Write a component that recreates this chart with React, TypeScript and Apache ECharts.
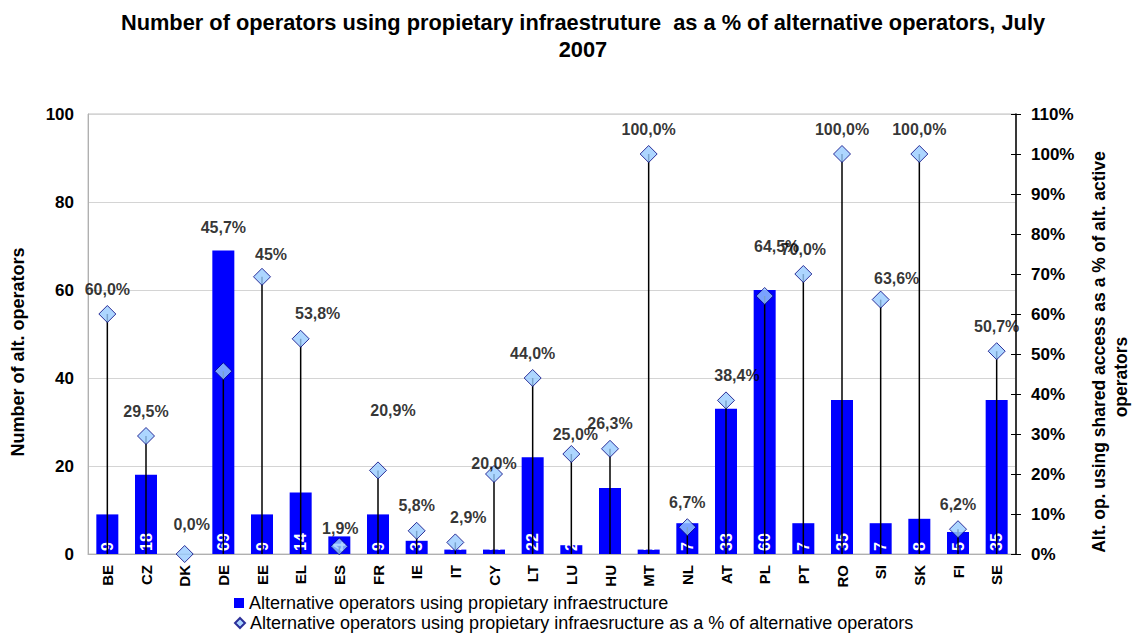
import React, { useEffect, useRef } from "react";
import * as echarts from "echarts";

const categories = ["BE","CZ","DK","DE","EE","EL","ES","FR","IE","IT","CY","LT","LU","HU","MT","NL","AT","PL","PT","RO","SI","SK","FI","SE"];
const operators = [9,18,0,69,9,14,4,9,3,1,1,22,2,15,1,7,33,60,7,35,7,8,5,35];
const barLabels = ["9","18","","69","9","14","4","9","3","1","1","22","2","","1","7","33","60","7","35","7","8","5","35"];
const percentPos = [60,29.5,0,45.7,69.3,53.8,1.9,20.9,5.8,2.9,20.0,44.0,25.0,26.3,100,6.7,38.4,64.5,70.0,100,63.6,100,6.2,50.7];
const percentLabels = ["60,0%","29,5%","0,0%","45,7%","45%","53,8%","1,9%","20,9%","5,8%","2,9%","20,0%","44,0%","25,0%","26,3%","100,0%","6,7%","38,4%","64,5%","70,0%","100,0%","63,6%","100,0%","6,2%","50,7%"];
const leftTicks = { min: 0, max: 100, interval: 20 };
const rightTicks = { min: 0, max: 110, interval: 10 };

const SERIES_BAR = "Alternative operators using propietary infraestructure";
const SERIES_PCT = "Alternative operators using propietary infraesructure as a % of alternative operators";
const LEFT_NAME = "Number of alt. operators";
const RIGHT_NAME_1 = "Alt. op. using shared access as a % of alt. active";
const RIGHT_NAME_2 = "operators";

// label nudges (layout only)
const labelNudge: Record<string, [number, number]> = {
  DK: [7, -5], DE: [0, -119], EE: [9, 3], EL: [17, 0], ES: [1, 7], FR: [15, -35],
  IT: [13, 0], CY: [0, 14], LU: [4, 5], AT: [11, 0], PL: [12, -25], SI: [16, 4],
};

const FONT = "'Liberation Sans', Arial, sans-serif";

export default function App() {
  const ref = useRef<HTMLDivElement>(null);
  useEffect(() => {
    document.body.style.margin = "0";
    const chart = echarts.init(ref.current!, null, { renderer: "svg" });
    const legendText = { fontFamily: FONT, fontSize: 18, color: "#000" };
    const nameStyle = { fontFamily: FONT, fontWeight: "bold", fill: "#000", align: "center", verticalAlign: "middle" };
    chart.setOption({
      animation: false,
      backgroundColor: "#ffffff",
      textStyle: { fontFamily: FONT },
      title: {
        text: "Number of operators using propietary infraestruture  as a % of alternative operators, July\n2007",
        left: 578,
        textAlign: "center",
        top: 4,
        textStyle: { fontFamily: FONT, fontWeight: "bold", fontSize: 21.8, lineHeight: 27, color: "#000" },
      },
      graphic: [
        { type: "text", x: 18, y: 352, rotation: Math.PI / 2, style: { text: LEFT_NAME, fontSize: 18, ...nameStyle } },
        { type: "text", x: 1099, y: 352, rotation: Math.PI / 2, style: { text: RIGHT_NAME_1, fontSize: 17.5, ...nameStyle } },
        { type: "text", x: 1121, y: 377, rotation: Math.PI / 2, style: { text: RIGHT_NAME_2, fontSize: 17.5, ...nameStyle } },
      ],
      legend: [
        {
          left: 234,
          top: 594,
          itemWidth: 10,
          itemHeight: 10,
          padding: 0,
          textStyle: legendText,
          data: [{ name: SERIES_BAR, icon: "rect" }],
        },
        {
          left: 234,
          top: 614,
          itemWidth: 10,
          itemHeight: 10,
          padding: 0,
          textStyle: legendText,
          data: [{ name: SERIES_PCT, icon: "diamond" }],
        },
      ],
      grid: { left: 88, right: 119, top: 114, bottom: 85, show: true, borderColor: "#c0c0c0", borderWidth: 1, outerBoundsMode: "none", containLabel: false },
      xAxis: {
        type: "category",
        data: categories,
        axisLine: { lineStyle: { color: "#b0b0b0" } },
        axisTick: { show: false },
        axisLabel: { rotate: 90, fontFamily: FONT, fontWeight: "bold", fontSize: 15, color: "#000", margin: 11, interval: 0 },
      },
      yAxis: [
        {
          type: "value",
          ...leftTicks,
          axisLine: { show: true, lineStyle: { color: "#b0b0b0" } },
          axisTick: { show: false },
          axisLabel: { fontFamily: FONT, fontWeight: "bold", fontSize: 17, color: "#000", margin: 14 },
          splitLine: { lineStyle: { color: "#d4d4d4", width: 1 } },
        },
        {
          type: "value",
          ...rightTicks,
          position: "right",
          axisLine: { show: true, lineStyle: { color: "#000", width: 1.5 } },
          axisTick: { show: true, length: 5, lineStyle: { color: "#000" } },
          axisLabel: { fontFamily: FONT, fontWeight: "bold", fontSize: 17, color: "#000", margin: 15, formatter: "{value}%" },
          splitLine: { show: false },
        },
        {
          type: "value",
          ...rightTicks,
          position: "right",
          axisLine: { show: false },
          axisTick: { show: true, inside: true, length: 5, lineStyle: { color: "#000" } },
          axisLabel: { show: false },
          splitLine: { show: false },
        },
      ],
      series: [
        {
          name: SERIES_BAR,
          type: "bar",
          yAxisIndex: 0,
          barWidth: 22,
          itemStyle: { color: "#0000ff" },
          data: operators.map((v, i) => ({
            value: v,
            label: {
              show: barLabels[i] !== "",
              formatter: barLabels[i],
            },
          })),
          label: {
            position: "insideBottom",
            rotate: 90,
            align: "left",
            verticalAlign: "middle",
            distance: 3,
            color: "#fff",
            fontFamily: FONT,
            fontWeight: "bold",
            fontSize: 16,
          },
          z: 2,
        },
        {
          name: "stems",
          type: "custom",
          yAxisIndex: 1,
          data: percentPos.map((v, i) => [i, v]),
          encode: { x: 0, y: 1 },
          renderItem: (params: any, api: any) => {
            const b = api.coord([api.value(0), 0]);
            const t = api.coord([api.value(0), api.value(1)]);
            return {
              type: "line",
              shape: { x1: b[0], y1: b[1], x2: t[0], y2: t[1] },
              style: { stroke: "#000", lineWidth: 1.5 },
            };
          },
          z: 3,
          silent: true,
        },
        {
          name: SERIES_PCT,
          type: "scatter",
          yAxisIndex: 1,
          symbol: "diamond",
          symbolSize: 17,
          itemStyle: { color: "#99ccff", borderColor: "#000080", borderWidth: 1 },
          data: percentPos.map((v, i) => {
            const n = labelNudge[categories[i]] || [0, 0];
            return { value: [i, v], label: { formatter: percentLabels[i], offset: n } };
          }),
          label: {
            show: true,
            position: "top",
            distance: 8,
            color: "#000",
            fontFamily: FONT,
            fontWeight: "bold",
            fontSize: 16,
          },
          z: 4,
        },
      ],
    });
    return () => chart.dispose();
  }, []);
  return <div ref={ref} style={{ width: 1135, height: 639 }} />;
}
